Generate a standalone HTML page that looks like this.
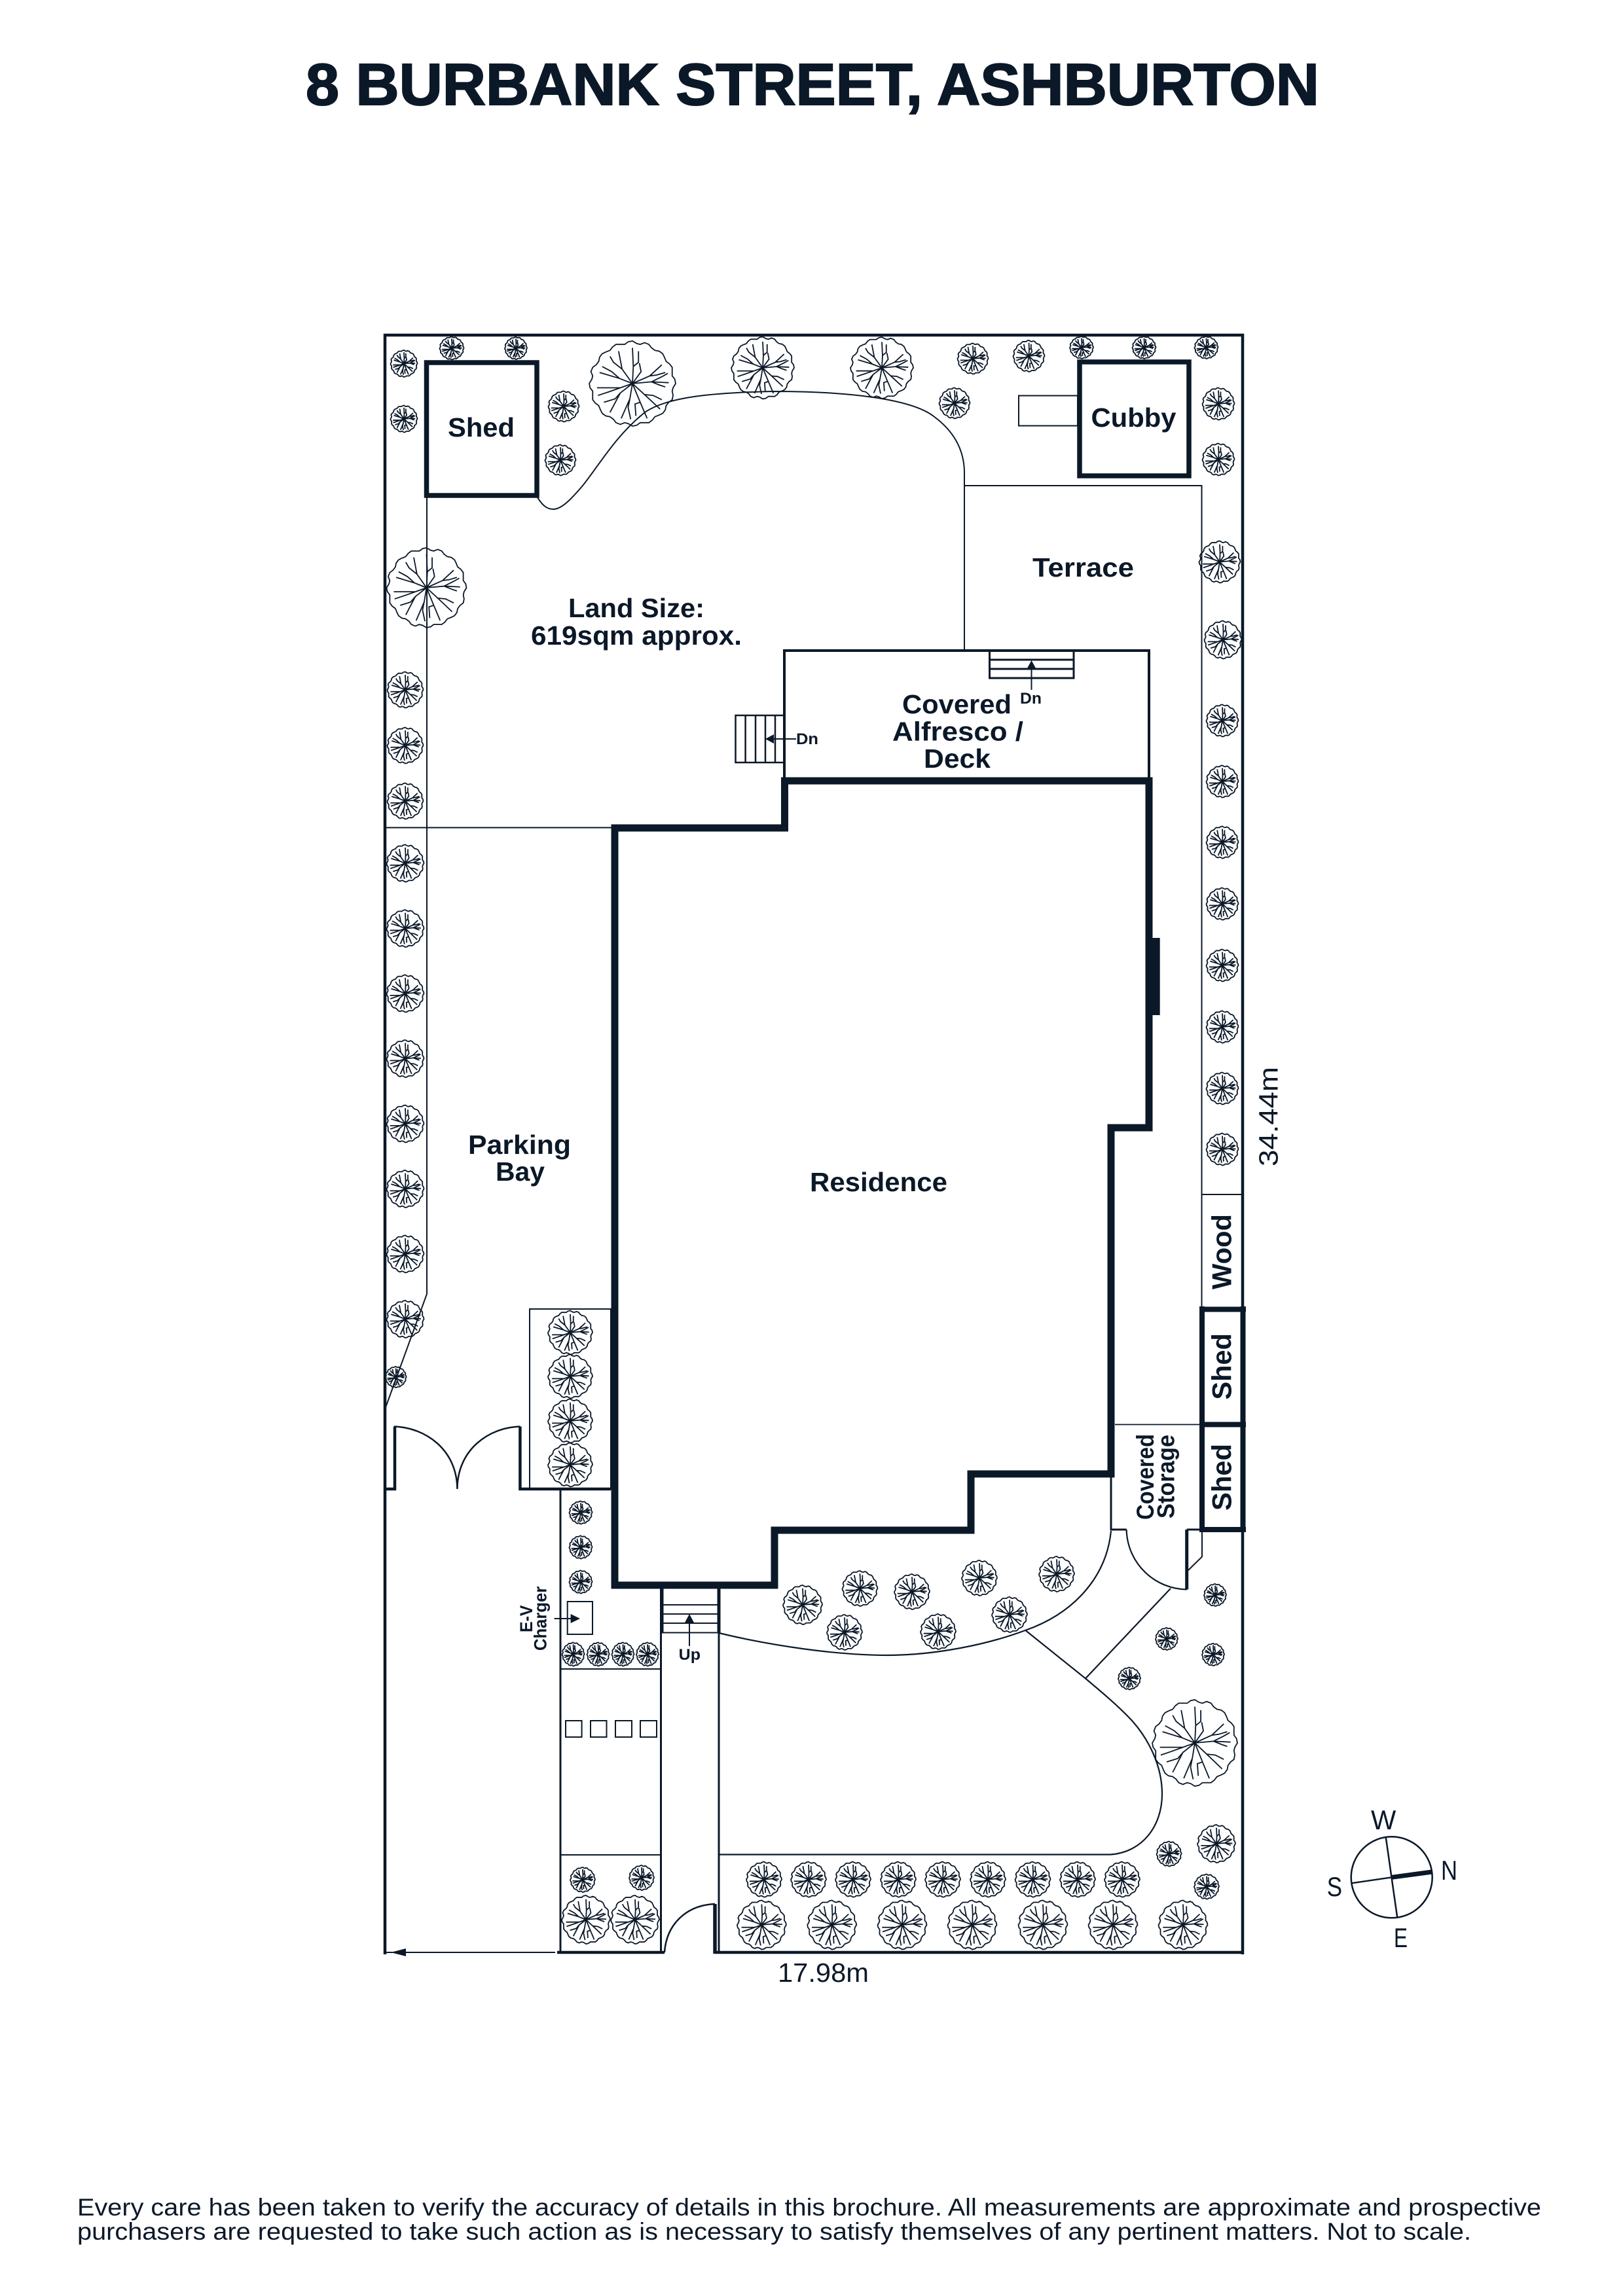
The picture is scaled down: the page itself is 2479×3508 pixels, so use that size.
<!DOCTYPE html>
<html>
<head>
<meta charset="utf-8">
<style>
html,body{margin:0;padding:0;background:#fff;}
svg{display:block;}
text{font-family:"Liberation Sans",sans-serif;fill:#0b1828;}
.b{font-weight:bold;}
</style>
</head>
<body>
<svg width="2479" height="3508" viewBox="0 0 2479 3508" xmlns="http://www.w3.org/2000/svg">
<defs>
<g id="t" fill="none" stroke="#0b1828">
<path vector-effect="non-scaling-stroke" stroke-width="1.8" d="M50 0L47 5L46 9L47 14L46 19L42 22L39 26L38 31L35 35L31 37L26 39L23 43L19 46L14 46L9 46L5 49L0 50L-5 47L-9 46L-14 48L-19 46L-22 42L-26 39L-31 38L-35 35L-37 31L-39 26L-43 23L-46 19L-46 14L-46 9L-49 5L-50 0L-47 -5L-46 -9L-48 -14L-46 -19L-42 -22L-39 -26L-38 -31L-35 -35L-31 -37L-26 -39L-23 -43L-19 -46L-14 -46L-9 -46L-5 -49L0 -50L5 -47L9 -46L14 -48L19 -46L22 -42L26 -39L31 -38L35 -35L37 -31L39 -26L43 -23L46 -19L46 -14L46 -9L49 -5Z"/>
<path vector-effect="non-scaling-stroke" stroke-width="1.8" d="M0 0L-12 -17L-16 -38M0 0L1 -20L0 -42M1 -20L7 -25L7 -38M0 0L10 -14L8 -24M0 0L20 -9L34 -22M20 -9L28 -10L38 -13M0 0L22 -2L42 -1M22 -2L34 -8L41 -12M22 -2L32 2L38 4M0 0L14 13L32 30M14 13L24 14L34 19M0 0L9 22L17 41M9 22L3 24L4 38M0 0L-3 18L-13 41M-3 18L-5 28L-2 42M0 0L-14 11L-26 34M-14 11L-20 18L-33 22M0 0L-14 5L-41 5M-14 5L-28 10L-40 14M0 0L-15 -6L-38 -13M-15 -6L-24 -14L-35 -20M-12 -17L-22 -25L-26 -32"/>
</g>
</defs>

<text class="b" x="467" y="160" font-size="90" stroke="#0b1828" stroke-width="2" textLength="1548" lengthAdjust="spacingAndGlyphs">8 BURBANK STREET, ASHBURTON</text>

<g fill="none" stroke="#0b1828" stroke-linejoin="miter">
<!-- outer boundary -->
<path stroke-width="4.5" d="M588 2986V512H1898V2986M851 2983H1015M1092 2983H1900"/>
<path stroke-width="2" d="M588 2983H600M620 2983H848"/>

<!-- thin garden lines -->
<path stroke-width="2" d="M652 760V1977L588 2153M588 1264.500H936"/>
<path stroke-width="2" d="M821 760C829 773 836 778 845 778C858 778 873 762 890 742C915 711 940 666 985 630C1020 606 1090 600 1180 598C1300 598 1392 610 1426 636C1452 655 1472 682 1473 720V994M1473 742H1835.500V1996M1835.500 1825H1898"/>

<!-- sheds and cubby -->
<rect x="651.500" y="554" width="168.500" height="203" stroke-width="7.500"/>
<rect x="1649" y="553" width="167" height="174" stroke-width="7.500"/>
<rect x="1556" y="604.500" width="90" height="46" stroke-width="2"/>

<!-- alfresco -->
<path stroke-width="4" d="M1198 1193V994H1755V1193"/>
<path stroke-width="3" d="M1511.500 994V1036H1640V994M1511.500 1008H1640M1511.500 1022H1640"/>
<path stroke-width="2.500" d="M1198 1093H1123.500V1165H1198M1138.600 1093V1165M1154 1093V1165M1169 1093V1165M1184 1093V1165"/>
<path stroke-width="2" d="M1575.500 1054V1015M1175 1129H1216"/>

<!-- residence -->
<path stroke-width="11" d="M1198.500 1193H1755V1723H1697V2252H1483V2338H1183V2422H939V1265H1198.500Z"/>

<!-- right side sheds -->
<path stroke-width="8" d="M1836 1996V2341M1898.500 1996V2341M1832 2000.500H1903M1832 2176.500H1903M1832 2337H1903"/>
<path stroke-width="1.800" d="M1703 2176.500H1832"/>

<!-- covered storage -->
<path stroke-width="3" d="M1697 2257V2337H1720.600M1812.700 2337H1834"/>
<path stroke-width="2.200" d="M1720.600 2337C1722 2390 1765 2428 1812.700 2428.500"/>
<path stroke-width="5" d="M1812.700 2337V2428.500"/>
<path stroke-width="2" d="M1836 2341V2378.500L1813 2401"/>

<!-- front garden curves -->
<path stroke-width="2.200" d="M1098 2495C1180 2515 1280 2529 1355 2529C1430 2529 1510 2512 1566 2491C1640 2465 1690 2410 1697 2339"/>
<path stroke-width="2.200" d="M1098 2833.500H1696C1745 2830 1775 2790 1775 2741C1775 2695 1752 2655 1730 2630C1710 2608 1680 2583 1658 2564.500L1567 2491.500M1658 2564.500L1788 2427"/>

<!-- front gates -->
<path stroke-width="4.500" d="M588 2275H603V2179.500M794.400 2179.500V2275H933"/>
<path stroke-width="2.500" d="M602 2179.500C650 2181 698 2215 698.400 2275C698.800 2215 746 2181 794.400 2179.500"/>
<rect x="809" y="2000" width="124" height="275" stroke-width="2"/>

<!-- path / driveway -->
<path stroke-width="3" d="M856 2275V2983M1009.500 2427V2985M1098 2427V2985"/>
<path stroke-width="2" d="M856 2550H1009.500M856 2834H1009.500"/>
<path stroke-width="5" d="M1011 2427V2494.500M1098 2427V2494.500"/>
<path stroke-width="2" d="M1011 2452H1098M1011 2466H1098M1011 2480H1098M1011 2494.500H1098M1053 2515V2480"/>
<path stroke-width="2.500" d="M1015 2983C1018 2940 1048 2911 1092 2909"/>
<path stroke-width="5.500" d="M1092 2909V2985"/>

<!-- charger -->
<rect x="866.700" y="2447" width="38.300" height="50" stroke-width="2"/>
<path stroke-width="2" d="M846.600 2473H872"/>
<g stroke-width="2">
<rect x="864" y="2629" width="24.600" height="25"/>
<rect x="902" y="2629" width="24.500" height="25"/>
<rect x="940" y="2629" width="25" height="25"/>
<rect x="978" y="2629" width="25" height="25"/>
</g>

<!-- compass -->
<circle cx="2125.700" cy="2868.300" r="62" stroke-width="2.500"/>
<path stroke-width="2.500" d="M2116.700 2806.700L2134.300 2930M2064.300 2877.300L2125.700 2868.300"/>
<path stroke-width="7" d="M2125.700 2868.300L2187.300 2860"/>
</g>

<!-- bump on residence -->
<rect x="1755" y="1433" width="16.700" height="118" fill="#0b1828"/>

<!-- arrowheads -->
<g fill="#0b1828">
<polygon points="1575.500,1009 1569,1021 1582,1021"/>
<polygon points="1169,1129 1182,1122 1182,1136"/>
<polygon points="886,2473 871.600,2466 871.600,2480"/>
<polygon points="1053,2466 1045,2481 1061,2481"/>
<polygon points="597,2983 620,2977 620,2989"/>
</g>

<!-- trees -->
<use href="#t" transform="translate(617,555.500) scale(.41)"/>
<use href="#t" transform="translate(617,640) scale(.41)"/>
<use href="#t" transform="translate(690,532) scale(.37,.35)"/>
<use href="#t" transform="translate(788,532) scale(.34)"/>
<use href="#t" transform="translate(861,621) scale(.47)"/>
<use href="#t" transform="translate(856,703) scale(.47)"/>
<use href="#t" transform="translate(966,586) scale(1.32,1.30)"/>
<use href="#t" transform="translate(1165,562) scale(.96,.95)"/>
<use href="#t" transform="translate(651.500,898) scale(1.22)"/>
<use href="#t" transform="translate(619,1054) scale(.55)"/>
<use href="#t" transform="translate(619,1139) scale(.55)"/>
<use href="#t" transform="translate(619,1224) scale(.55)"/>
<use href="#t" transform="translate(619,1319) scale(.57)"/>
<use href="#t" transform="translate(619,1418.600) scale(.57)"/>
<use href="#t" transform="translate(619,1518) scale(.57)"/>
<use href="#t" transform="translate(619,1617.500) scale(.57)"/>
<use href="#t" transform="translate(619,1717) scale(.57)"/>
<use href="#t" transform="translate(619,1816.500) scale(.57)"/>
<use href="#t" transform="translate(619,1916) scale(.57)"/>
<use href="#t" transform="translate(619,2015.500) scale(.57)"/>
<use href="#t" transform="translate(604.600,2104) scale(.32)"/>

<use href="#t" transform="translate(1347,562) scale(.96,.94)"/>
<use href="#t" transform="translate(1486,548) scale(.47)"/>
<use href="#t" transform="translate(1571.500,544) scale(.48)"/>
<use href="#t" transform="translate(1458,616) scale(.47)"/>
<use href="#t" transform="translate(1652,531) scale(.36,.34)"/>
<use href="#t" transform="translate(1747.500,531) scale(.36,.34)"/>
<use href="#t" transform="translate(1842.500,531) scale(.36,.34)"/>
<use href="#t" transform="translate(1861,617) scale(.49)"/>
<use href="#t" transform="translate(1861,702) scale(.49)"/>
<use href="#t" transform="translate(1863,858.500) scale(.63,.64)"/>
<use href="#t" transform="translate(1868,977.500) scale(.57,.58)"/>
<use href="#t" transform="translate(1867,1101) scale(.49)"/>
<use href="#t" transform="translate(1867,1194) scale(.49)"/>
<use href="#t" transform="translate(1867,1287) scale(.49)"/>
<use href="#t" transform="translate(1867,1381) scale(.49)"/>
<use href="#t" transform="translate(1867,1475) scale(.49)"/>
<use href="#t" transform="translate(1867,1569) scale(.49)"/>
<use href="#t" transform="translate(1867,1663) scale(.49)"/>
<use href="#t" transform="translate(1867,1756) scale(.49)"/>

<use href="#t" transform="translate(871,2036) scale(.68,.67)"/>
<use href="#t" transform="translate(871,2103) scale(.68,.67)"/>
<use href="#t" transform="translate(871,2171) scale(.68,.67)"/>
<use href="#t" transform="translate(871,2238) scale(.68,.67)"/>
<use href="#t" transform="translate(887,2311) scale(.35)"/>
<use href="#t" transform="translate(887,2364) scale(.35)"/>
<use href="#t" transform="translate(887,2417) scale(.35)"/>
<use href="#t" transform="translate(875.600,2527.500) scale(.34,.36)"/>
<use href="#t" transform="translate(913.600,2527.500) scale(.34,.36)"/>
<use href="#t" transform="translate(951.500,2527.500) scale(.34,.36)"/>
<use href="#t" transform="translate(989,2527.500) scale(.34,.36)"/>
<use href="#t" transform="translate(890,2872) scale(.38)"/>
<use href="#t" transform="translate(980,2869) scale(.38)"/>
<use href="#t" transform="translate(895,2933) scale(.74)"/>
<use href="#t" transform="translate(970,2933) scale(.74)"/>

<use href="#t" transform="translate(1226,2452) scale(.60)"/>
<use href="#t" transform="translate(1313.500,2427) scale(.54)"/>
<use href="#t" transform="translate(1290,2494) scale(.54)"/>
<use href="#t" transform="translate(1393,2432) scale(.54)"/>
<use href="#t" transform="translate(1433,2493) scale(.54)"/>
<use href="#t" transform="translate(1496,2411) scale(.54)"/>
<use href="#t" transform="translate(1542,2467) scale(.54)"/>
<use href="#t" transform="translate(1614,2405) scale(.54)"/>
<use href="#t" transform="translate(1856,2437) scale(.34)"/>
<use href="#t" transform="translate(1782,2504) scale(.34)"/>
<use href="#t" transform="translate(1853,2528) scale(.34)"/>
<use href="#t" transform="translate(1725,2564.500) scale(.34)"/>
<use href="#t" transform="translate(1825,2663) scale(1.30,1.32)"/>
<use href="#t" transform="translate(1858,2817) scale(.58)"/>
<use href="#t" transform="translate(1785.600,2832.500) scale(.38)"/>
<use href="#t" transform="translate(1843,2882.500) scale(.38)"/>

<use href="#t" transform="translate(1167,2871.600) scale(.54)"/>
<use href="#t" transform="translate(1235,2871.600) scale(.54)"/>
<use href="#t" transform="translate(1303,2871.600) scale(.54)"/>
<use href="#t" transform="translate(1372,2871.600) scale(.54)"/>
<use href="#t" transform="translate(1440,2871.600) scale(.54)"/>
<use href="#t" transform="translate(1509,2871.600) scale(.54)"/>
<use href="#t" transform="translate(1577.500,2871.600) scale(.54)"/>
<use href="#t" transform="translate(1646,2871.600) scale(.54)"/>
<use href="#t" transform="translate(1714,2871.600) scale(.54)"/>
<use href="#t" transform="translate(1163.400,2941) scale(.75)"/>
<use href="#t" transform="translate(1270.700,2941) scale(.75)"/>
<use href="#t" transform="translate(1378,2941) scale(.75)"/>
<use href="#t" transform="translate(1485,2941) scale(.75)"/>
<use href="#t" transform="translate(1593,2941) scale(.75)"/>
<use href="#t" transform="translate(1700,2941) scale(.75)"/>
<use href="#t" transform="translate(1807,2941) scale(.75)"/>

<!-- labels -->
<text class="b" x="684" y="667" font-size="41" textLength="102" lengthAdjust="spacingAndGlyphs">Shed</text>
<text class="b" x="868" y="943" font-size="41" textLength="208" lengthAdjust="spacingAndGlyphs">Land Size:</text>
<text class="b" x="811" y="985" font-size="41" textLength="322" lengthAdjust="spacingAndGlyphs">619sqm approx.</text>
<text class="b" x="1577" y="881" font-size="41" textLength="155" lengthAdjust="spacingAndGlyphs">Terrace</text>
<text class="b" x="1666.500" y="652" font-size="41" textLength="130" lengthAdjust="spacingAndGlyphs">Cubby</text>
<text class="b" x="1378" y="1090" font-size="41" textLength="167" lengthAdjust="spacingAndGlyphs">Covered</text>
<text class="b" x="1363" y="1131.500" font-size="41" textLength="200" lengthAdjust="spacingAndGlyphs">Alfresco /</text>
<text class="b" x="1411" y="1173" font-size="41" textLength="102" lengthAdjust="spacingAndGlyphs">Deck</text>
<text class="b" x="1558" y="1075" font-size="24" textLength="33" lengthAdjust="spacingAndGlyphs">Dn</text>
<text class="b" x="1216" y="1137" font-size="24" textLength="34" lengthAdjust="spacingAndGlyphs">Dn</text>
<text class="b" x="715" y="1763" font-size="41" textLength="157" lengthAdjust="spacingAndGlyphs">Parking</text>
<text class="b" x="757" y="1804" font-size="41" textLength="75" lengthAdjust="spacingAndGlyphs">Bay</text>
<text class="b" x="1237" y="1820" font-size="41" textLength="210" lengthAdjust="spacingAndGlyphs">Residence</text>
<text class="b" x="1036.700" y="2536" font-size="24" textLength="33.300" lengthAdjust="spacingAndGlyphs">Up</text>

<text class="b" transform="translate(1880.700,1970) rotate(-90)" font-size="42" textLength="115" lengthAdjust="spacingAndGlyphs">Wood</text>
<text class="b" transform="translate(1880.700,2138.600) rotate(-90)" font-size="42" textLength="101.500" lengthAdjust="spacingAndGlyphs">Shed</text>
<text class="b" transform="translate(1880.700,2308) rotate(-90)" font-size="42" textLength="102" lengthAdjust="spacingAndGlyphs">Shed</text>
<text class="b" transform="translate(1762,2322) rotate(-90)" font-size="37" textLength="131" lengthAdjust="spacingAndGlyphs">Covered</text>
<text class="b" transform="translate(1793.700,2320) rotate(-90)" font-size="37" textLength="128" lengthAdjust="spacingAndGlyphs">Storage</text>
<text class="b" transform="translate(813,2494) rotate(-90)" font-size="27" textLength="41.500" lengthAdjust="spacingAndGlyphs">E-V</text>
<text class="b" transform="translate(834.500,2522) rotate(-90)" font-size="27" textLength="98.300" lengthAdjust="spacingAndGlyphs">Charger</text>

<text x="1188" y="3028" font-size="41" textLength="139" lengthAdjust="spacingAndGlyphs">17.98m</text>
<text transform="translate(1951.700,1782) rotate(-90)" font-size="41" textLength="152" lengthAdjust="spacingAndGlyphs">34.44m</text>

<text x="2094" y="2795" font-size="42" textLength="38.300" lengthAdjust="spacingAndGlyphs">W</text>
<text x="2026.700" y="2897" font-size="42" textLength="23.300" lengthAdjust="spacingAndGlyphs">S</text>
<text x="2201" y="2872" font-size="42" textLength="25" lengthAdjust="spacingAndGlyphs">N</text>
<text x="2129" y="2975" font-size="42" textLength="21" lengthAdjust="spacingAndGlyphs">E</text>

<text x="118" y="3385" font-size="37" textLength="2236" lengthAdjust="spacingAndGlyphs">Every care has been taken to verify the accuracy of details in this brochure. All measurements are approximate and prospective</text>
<text x="118" y="3422" font-size="37" textLength="2129" lengthAdjust="spacingAndGlyphs">purchasers are requested to take such action as is necessary to satisfy themselves of any pertinent matters. Not to scale.</text>
</svg>
</body>
</html>
